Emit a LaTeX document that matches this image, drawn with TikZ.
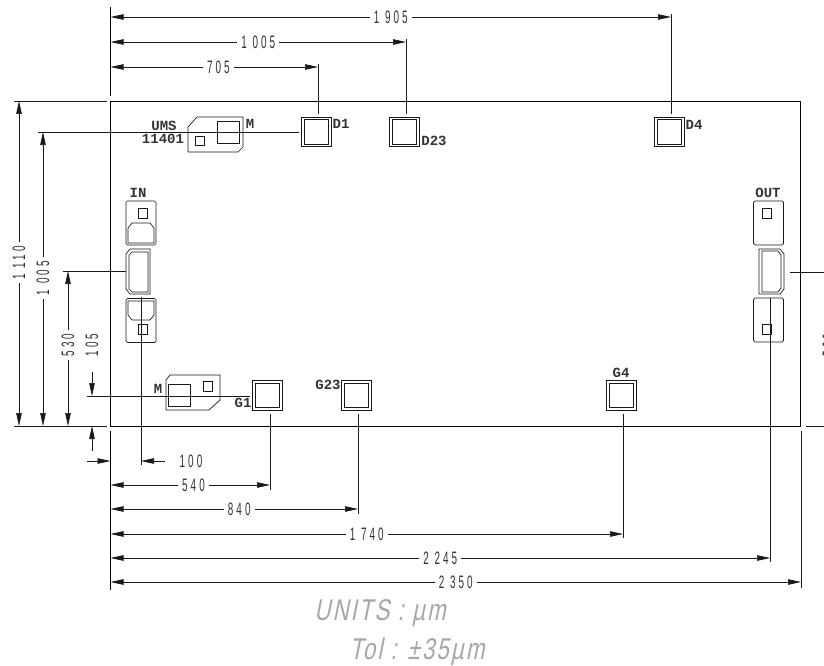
\documentclass[tikz,border=0pt]{standalone}
\usepackage{fontspec}
\usepackage{tikz}
\usetikzlibrary{arrows.meta}
\newfontfamily\dimfont[FakeStretch=0.55,LetterSpace=17]{Liberation Sans}
\newfontfamily\padfont[FakeStretch=1.0]{Liberation Mono Bold}
\newfontfamily\notefont[FakeStretch=0.74,FakeSlant=0.2,LetterSpace=7]{Liberation Sans}
\tikzset{
	>={Triangle[length=13pt,width=5.5pt]},
	thinline/.style={line width=0.7pt, draw=black!90},
	dimline/.style={thinline, <->},
	stubline/.style={thinline, ->},
	extline/.style={thinline},
	edgeline/.style={line width=1.5pt},
	dimtext/.style={font=\dimfont\fontsize{18}{18}\selectfont, fill=white, inner sep=4pt, text=black!80},
	padtext/.style={font=\padfont\fontsize{14}{14}\selectfont, inner sep=0pt, text=black!80},
	notetext/.style={font=\notefont\fontsize{30}{30}\selectfont, inner sep=0pt, text=black!35},
	bondpad/.style={draw, thinline, double, double distance=1.7pt, minimum size=27pt, inner sep=0pt},
	viahole/.style={draw, thinline, minimum size=9.5pt, inner sep=0pt},
	rfpad/.style={draw, thinline, rounded corners=1.5pt, minimum width=30pt, minimum height=44pt, inner sep=0pt}
}
\begin{document}
\begin{tikzpicture}[x=1pt,y=-1pt]
\useasboundingbox (0,0) rectangle (824,666);
\clip (0,0) rectangle (824,666);

% chip outline
\node[draw, line width=0.8pt, minimum width=690pt, minimum height=325pt, inner sep=0pt, anchor=north west] (chip) at (110,101) {};

% pads
\node[bondpad] (d1) at (316.5,132) {};
\node[bondpad] (d23) at (404.5,132) {};
\node[bondpad] (d4) at (669.5,132) {};
\node[bondpad] (g1) at (267.5,395.5) {};
\node[bondpad] (g23) at (356.5,395.5) {};
\node[bondpad] (g4) at (621.5,395.5) {};

% capacitors
\draw[thinline] (188,152) -- (188,127) -- (197,117) -- (243,117) -- (243,147) -- (238,152) -- cycle;
\node[draw, thinline, minimum size=22pt, inner sep=0pt] (mtop) at (228.5,132) {};
\node[viahole] (vtop) at (200,141) {};
\draw[thinline] (166,410) -- (166,380) -- (170,375) -- (220,375) -- (220,400) -- (209,410) -- cycle;
\node[draw, thinline, minimum size=22pt, inner sep=0pt] (mbot) at (179.5,395.5) {};
\node[viahole] (vbot) at (208,386.5) {};

% input side
\node[rfpad] (ina) at (141,223) {};
\node[viahole] (vina) at (143,213.5) {};
\draw[thinline] (128,243) -- (128,228) -- (132,223) -- (150,223) -- (154,228) -- (154,243) -- cycle;
\draw[thinline] (126,254) -- (130,249) -- (150,249) -- (150,294) -- (130,294) -- (126,289) -- cycle;
\draw[thinline] (129,255) -- (132,252) -- (148,252) -- (148,292) -- (132,292) -- (129,289) -- cycle;
\coordinate (inm) at (126,271);
\node[rfpad] (inb) at (141,320.5) {};
\node[viahole] (vinb) at (143,329.5) {};
\draw[thinline] (128,301) -- (128,315) -- (132,320) -- (150,320) -- (154,315) -- (154,301) -- cycle;

% output side
\node[rfpad] (outa) at (768.5,223) {};
\node[viahole] (vouta) at (767,213.5) {};
\draw[thinline] (759,249) -- (780,249) -- (784,254) -- (784,289) -- (780,294) -- (759,294) -- cycle;
\draw[thinline] (762,251) -- (778,251) -- (781,255) -- (781,288) -- (778,292) -- (762,292) -- cycle;
\coordinate (outm) at (790,272);
\node[rfpad] (outb) at (768.5,320) {};
\node[viahole] (voutb) at (767,329.5) {};

% pad names
\node[padtext] (umsname) at (164,126) {UMS};
\node[padtext] (refname) at (163,139) {11401};
\node[padtext] (mtopname) at (250,124) {M};
\node[padtext] (d1name) at (341,124) {D1};
\node[padtext] (d23name) at (434,141) {D23};
\node[padtext] (d4name) at (694,125) {D4};
\node[padtext] (inname) at (138,193) {IN};
\node[padtext] (outname) at (768,193) {OUT};
\node[padtext] (g4name) at (621,373) {G4};
\node[padtext] (g23name) at (328,385) {G23};
\node[padtext] (g1name) at (243,403) {G1};
\node[padtext] (mbotname) at (158,389) {M};

% reference edges
\coordinate (topa) at (110.5,7);
\coordinate (topb) at (110.5,96);
\coordinate (bota) at (110.5,431);
\coordinate (botb) at (110.5,590);
\draw[edgeline] (topa) -- (topb);
\draw[edgeline] (bota) -- (botb);
\coordinate (rightb) at (801,431);
\coordinate (rightc) at (801,588);
\draw[extline] (rightb) -- (rightc);
\coordinate (lefta) at (14,101);
\coordinate (leftb) at (107,101);
\coordinate (leftc) at (14,426);
\coordinate (leftd) at (107,426);
\coordinate (lefte) at (806,426);
\coordinate (leftf) at (824,426);
\draw[extline] (lefta) -- (leftb);
\draw[extline] (leftc) -- (leftd);
\draw[extline] (lefte) -- (leftf);

% top dimensions
\coordinate (a705) at (110.5,67);
\coordinate (b705) at (318,67);
\coordinate (a1005) at (110.5,42);
\coordinate (b1005) at (406,42);
\coordinate (a1905) at (110.5,17);
\coordinate (b1905) at (671,17);
\draw[dimline] (a705) -- node[dimtext, pos=0.52] (t705) {705} (b705);
\draw[dimline] (a1005) -- node[dimtext, pos=0.5] (t1005) {1 005} (b1005);
\draw[dimline] (a1905) -- node[dimtext, pos=0.5] (t1905) {1 905} (b1905);
\draw[extline] ([yshift=4pt]d1.north) ++(1.5,0) -- ++(0,-50);
\draw[extline] ([yshift=4pt]d23.north) ++(1.5,0) -- ++(0,-75);
\draw[extline] ([yshift=4pt]d4.north) ++(1.5,0) -- ++(0,-100);

% left dimensions
\coordinate (a1110) at (19,101);
\coordinate (b1110) at (19,426);
\coordinate (a1005l) at (43,132);
\coordinate (b1005l) at (43,426);
\coordinate (a530) at (68,271);
\coordinate (b530) at (68,426);
\coordinate (c1005) at (38,132);
\coordinate (d1005) at (299,132);
\coordinate (c530) at (63,271);
\draw[dimline] (a1110) -- node[dimtext, pos=0.498, rotate=90] (t1110) {1 110} (b1110);
\draw[dimline] (a1005l) -- node[dimtext, pos=0.497, rotate=90] (t1005l) {1 005} (b1005l);
\draw[dimline] (a530) -- node[dimtext, pos=0.477, rotate=90] (t530) {530} (b530);
\draw[extline] (c1005) -- (d1005);
\draw[extline] (c530) -- (inm);

% 105 with arrows outside
\coordinate (a105) at (92,372);
\coordinate (b105) at (92,396);
\coordinate (c105) at (92,451);
\coordinate (d105) at (92,426);
\coordinate (e105) at (87,396);
\coordinate (f105) at (250,396);
\draw[stubline] (a105) -- (b105);
\draw[stubline] (c105) -- (d105);
\draw[extline] (e105) -- (f105);
\node[dimtext, rotate=90, fill=none] (t105) at (92,345) {105};

% right side, cut by the picture edge
\coordinate (g530) at (824,272);
\draw[extline] (outm) -- (g530);
\node[dimtext, rotate=90, fill=none] (t530r) at (829,345) {530};

% bottom dimensions
\coordinate (a100) at (87,461);
\coordinate (b100) at (110.5,461);
\coordinate (c100) at (165,461);
\coordinate (d100) at (141,461);
\coordinate (e100) at (141,297);
\coordinate (f100) at (141,465);
\draw[stubline] (a100) -- (b100);
\draw[stubline] (c100) -- (d100);
\draw[extline] (e100) -- (f100);
\node[dimtext, fill=none] (t100) at (191,461) {100};

\coordinate (a540) at (110.5,485);
\coordinate (b540) at (270,485);
\coordinate (a840) at (110.5,509);
\coordinate (b840) at (358,509);
\coordinate (a1740) at (110.5,534);
\coordinate (b1740) at (623,534);
\coordinate (a2245) at (110.5,558);
\coordinate (b2245) at (770,558);
\coordinate (a2350) at (110.5,582);
\coordinate (b2350) at (801,582);
\draw[dimline] (a540) -- node[dimtext, pos=0.52] (t540) {540} (b540);
\draw[dimline] (a840) -- node[dimtext, pos=0.52] (t840) {840} (b840);
\draw[dimline] (a1740) -- node[dimtext, pos=0.5] (t1740) {1 740} (b1740);
\draw[dimline] (a2245) -- node[dimtext, pos=0.5] (t2245) {2 245} (b2245);
\draw[dimline] (a2350) -- node[dimtext, pos=0.5] (t2350) {2 350} (b2350);
\draw[extline] ([yshift=-5pt]g1.south) ++(2.5,0) -- (270,490);
\draw[extline] ([yshift=-5pt]g23.south) ++(1.5,0) -- (358,514);
\draw[extline] ([yshift=-5pt]g4.south) ++(1.5,0) -- (623,538);
\coordinate (e2245) at (770,298);
\coordinate (f2245) at (770,562);
\draw[extline] (e2245) -- (f2245);

% note
\node[notetext] (units) at (380,613) {UNITS : µm};
\node[notetext] (tol) at (417,652) {Tol : ±35µm};
\end{tikzpicture}
\end{document}
